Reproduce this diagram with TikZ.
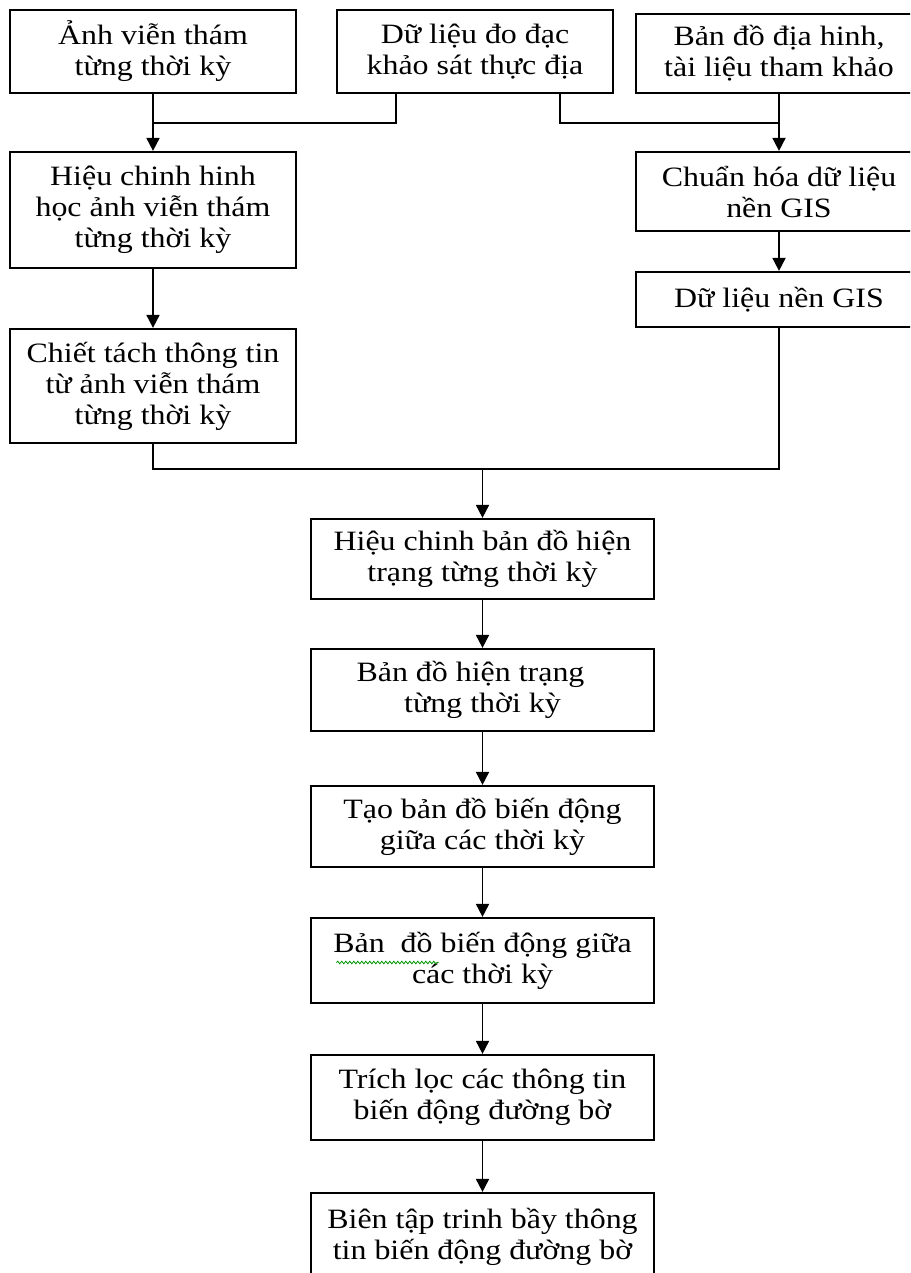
\documentclass[tikz,border=0pt]{standalone}
\usepackage{fontspec}
\setmainfont{Liberation Serif}[FakeStretch=1.14]
\usetikzlibrary{arrows.meta,decorations.pathmorphing}
\begin{document}
\begin{tikzpicture}[x=1pt,y=-1pt,
  box/.style={draw, line width=2.2pt, align=center, inner sep=0pt,
    font=\fontsize{28}{31}\selectfont},
  conn/.style={line width=1.8pt},
  arr/.style={conn, -{Triangle[length=13pt,width=13pt]}}]
\clip (0,0) rectangle (910,1273);
\fill[white] (0,0) rectangle (910,1273);

% input data
\node[box, minimum width=286pt, minimum height=83pt] (A) at (153,51.5)
  {Ảnh viễn thám\\từng thời kỳ};
\node[box, minimum width=276pt, minimum height=83pt] (B) at (475,51.5)
  {Dữ liệu đo đạc\\khảo sát thực địa};
\node[box, minimum width=286pt, minimum height=79pt] (C) at (779,53.5)
  {Bản đồ địa hinh,\\tài liệu tham khảo};

% left branch: imagery processing
\node[box, minimum width=286pt, minimum height=116pt] (D) at (153,210)
  {Hiệu chinh hinh\\học ảnh viễn thám\\từng thời kỳ};
\node[box, minimum width=286pt, minimum height=114pt] (G) at (153,386)
  {Chiết tách thông tin\\từ ảnh viễn thám\\từng thời kỳ};

% right branch: GIS base data
\node[box, minimum width=286pt, minimum height=79pt] (E) at (779,191.5)
  {Chuẩn hóa dữ liệu\\nền GIS};
\node[box, minimum width=286pt, minimum height=55pt] (F) at (779,299.5)
  {Dữ liệu nền GIS};

% main chain
\node[box, minimum width=343pt, minimum height=80pt] (H) at (482.5,559)
  {Hiệu chinh bản đồ hiện\\trạng từng thời kỳ};
\node[box, minimum width=343pt, minimum height=82pt] (I) at (482.5,690)
  {Bản đồ hiện trạng\hspace*{24pt}\\từng thời kỳ};
\node[box, minimum width=343pt, minimum height=81pt] (J) at (482.5,826.5)
  {Tạo bản đồ biến động\\giữa các thời kỳ};
\node[box, minimum width=343pt, minimum height=85pt] (K) at (482.5,960.5)
  {Bản\ \ đồ biến động giữa\\các thời kỳ};
\node[box, minimum width=343pt, minimum height=85pt] (L) at (482.5,1097.5)
  {Trích lọc các thông tin\\biến động đường bờ};
\node[box, minimum width=343pt, minimum height=88pt] (M) at (482.5,1237)
  {Biên tập trinh bầy thông\\tin biến động đường bờ};

% wavy proofing mark under the first words
\draw[green!60!black, line width=0.8pt,
  decorate, decoration={snake, amplitude=1.3pt, segment length=4pt}]
  ([xshift=-146pt,yshift=-2pt]K.center) -- ([xshift=-44pt,yshift=-2pt]K.center);

% joins of the input data
\coordinate (j1) at (153,123);
\coordinate (j2) at (779,123);
\draw[arr] (A.south) -- (D.north);
\draw[conn] ([xshift=-79pt]B.south) |- (j1);
\draw[conn] ([xshift=85pt]B.south) |- (j2);
\draw[arr] (C.south) -- (E.north);
\draw[arr] (E.south) -- (F.north);
\draw[arr] (D.south) -- (G.north);

% merge of both branches
\coordinate (m) at (482.5,469);
\draw[conn] (G.south) |- (F.south |- m) -- (F.south);
\draw[arr] (m) -- (H.north);

\draw[arr] (H.south) -- (I.north);
\draw[arr] (I.south) -- (J.north);
\draw[arr] (J.south) -- (K.north);
\draw[arr] (K.south) -- (L.north);
\draw[arr] (L.south) -- (M.north);
\end{tikzpicture}
\end{document}
